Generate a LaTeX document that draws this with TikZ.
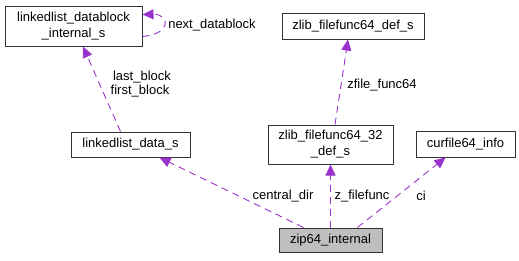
\documentclass[tikz,border=0pt]{standalone}
\usepackage{fontspec}
\setmainfont{Liberation Sans}
\usetikzlibrary{arrows.meta}
\definecolor{morado}{RGB}{154,50,205}
\definecolor{gris}{RGB}{191,191,191}
\begin{document}
\begin{tikzpicture}[x=1pt,y=-1pt]

	%ESTILOS
	\tikzstyle{every node}=[font=\fontsize{13}{16}\selectfont]
	\tikzstyle{clase} = [draw=black!80, align=center, line width=1pt, fill=white, inner sep=0pt]
	\tikzstyle{etiqueta} = [align=center, inner sep=0pt, outer sep=0pt]
	\tikzstyle{flecha} = [-{Triangle[length=11pt,width=10pt]}, morado, line width=0.9pt, dash pattern=on 7pt off 5pt]

	\useasboundingbox (0,0) rectangle (519,260);

	%CLASES
	\draw(73.5,26) node[clase, minimum width=137, minimum height=40](datablock){linkedlist\_datablock\\\_internal\_s};
	\draw(353,26) node[clase, minimum width=142, minimum height=26](filefunc){zlib\_filefunc64\_def\_s};
	\draw(130.5,144.5) node[clase, minimum width=119, minimum height=25](data){linkedlist\_data\_s};
	\draw(330.5,144.5) node[clase, minimum width=125, minimum height=39](filefunc32){zlib\_filefunc64\_32\\\_def\_s};
	\draw(465.5,144) node[clase, minimum width=99, minimum height=26](curfile){curfile64\_info};
	\draw(330.5,240) node[clase, fill=gris, minimum width=103, minimum height=24](zip){zip64\_internal};

	%ETIQUETAS
	\draw(212,25) node[etiqueta](lnext){next\_datablock};
	\draw(142,77) node[etiqueta](llast){last\_block};
	\draw(140,91) node[etiqueta](lfirst){first\_block};
	\draw(382,85) node[etiqueta](lzfile){zfile\_func64};
	\draw(283,196) node[etiqueta](lcentral){central\_dir};
	\draw(362,196) node[etiqueta](lzfunc){z\_filefunc};
	\draw(421,196) node[etiqueta](lci){ci};

	%FLECHAS
	\draw [flecha] ([yshift=10]datablock.south east) .. controls (172,34) and (170,14) .. ([yshift=-9]datablock.north east);	%LAZO
	\draw [flecha] ([xshift=-10]data.north) -- ([xshift=9.5]datablock.south);
	\draw [flecha] ([xshift=4.5]filefunc32.north) -- ([xshift=-5]filefunc.south);
	\draw [flecha] ([xshift=-27]zip.north) -- ([xshift=29]data.south);
	\draw [flecha] (zip.north) -- (filefunc32.south);
	\draw [flecha] ([xshift=27]zip.north) -- ([xshift=-20]curfile.south);
\end{tikzpicture}
\end{document}
